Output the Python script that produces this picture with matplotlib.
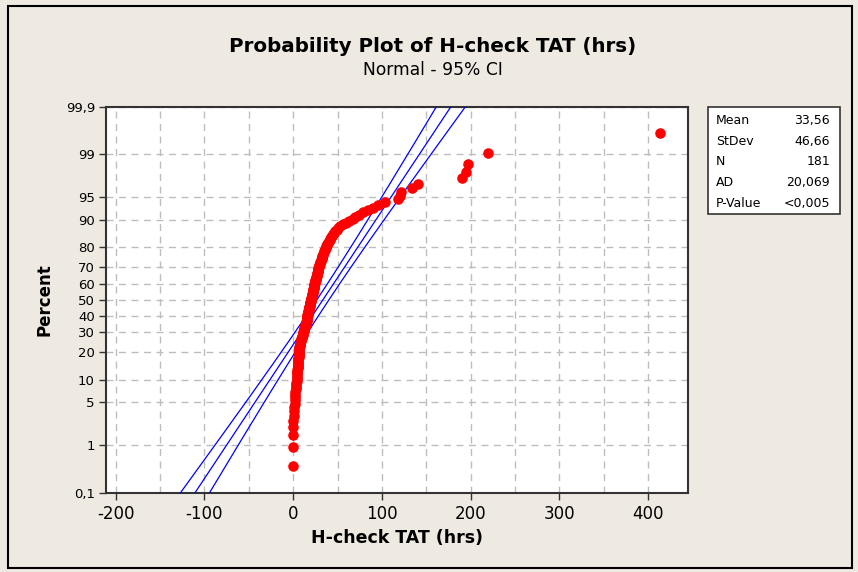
from statistics import NormalDist
import numpy as np
import matplotlib
matplotlib.use("Agg")
import matplotlib.pyplot as plt
from matplotlib.patches import Rectangle

# sorted H-check TAT values (hrs)
tat = [
    0, 0, 0, 0,
    0, 0.5, 0.5,
    1, 1.5, 2, 2,
    2.5, 2.5, 3, 3, 3.5, 3.5, 4,
    4, 4, 4, 4.5, 4.5, 4.5, 5, 5, 5, 5,
    5, 5.5, 5.5, 5.5, 6, 6, 6, 6, 6.5, 6.5, 7, 7, 7,
    7.5, 7.5, 8, 8, 8.5, 9, 9, 9.5, 10, 10, 10.5, 11, 11, 11.5,
    12, 12, 12.5, 12.5, 13, 13, 13.5, 14, 14, 14.5, 14.5, 15, 15, 15.5,
    15.5, 16, 16, 16, 16.5, 16.5, 17, 17, 17, 17.5, 17.5, 18, 18, 18, 18.5, 18.5, 19, 19.5,
    19.5, 20, 20, 20, 20.5, 20.5, 21, 21, 21, 21.5, 21.5, 22, 22, 22, 22.5, 22.5, 23, 23, 23.5, 23.5,
    24, 24, 24.5, 24.5, 25, 25, 25.5, 25.5, 26, 26, 26.5, 26.5, 27, 27, 27.5, 27.5, 28, 28, 28.5, 29,
    29.5, 29.5, 30, 30, 30.5, 31, 31.5, 32, 32, 32.5, 33,
    33.5, 34, 34.5, 35, 35.5, 36, 37, 37.5, 38, 38.5, 39,
    40, 41, 42, 43, 44, 45, 46, 47, 49, 51, 53,
    56, 60, 63, 67, 70, 74, 79, 84, 90, 96, 103,
    118, 120, 122, 133.5, 141, 190, 195, 197, 220, 413,
]

# summary shown in the legend box
mean = 33.56
stdev = 46.66
n = 181
stat_labels = ["Mean", "StDev", "N", "AD", "P-Value"]
stat_values = ["33,56", "46,66", "181", "20,069", "<0,005"]

pct_ticks = [0.1, 1, 5, 10, 20, 30, 40, 50, 60, 70, 80, 90, 95, 99, 99.9]
pct_labels = ["0,1", "1", "5", "10", "20", "30", "40", "50", "60", "70", "80", "90", "95", "99", "99,9"]
x_ticks = [-200, -100, 0, 100, 200, 300, 400]
x_grid = [-150, -50, 50, 150, 250, 350]

nd = NormalDist()
_ppf = np.vectorize(lambda p: nd.inv_cdf(min(max(p / 100.0, 1e-9), 1 - 1e-9)), otypes=[float])
_cdf = np.vectorize(lambda z: nd.cdf(z) * 100.0, otypes=[float])


def probit(p):
    return _ppf(np.asarray(p, dtype=float))


def inv_probit(z):
    return _cdf(np.asarray(z, dtype=float))


# median rank plotting positions
ranks = np.arange(1, len(tat) + 1)
pos = (ranks - 0.3) / (len(tat) + 0.4) * 100

# fitted line and 95% CI
pline = np.concatenate([[0.05], np.linspace(0.1, 99.9, 400), [99.95]])
z = probit(pline)
xfit = mean + stdev * z
se = stdev * np.sqrt(1.0 / n + z ** 2 / (2.0 * n))
xlo = xfit - 1.96 * se
xhi = xfit + 1.96 * se

bg = "#EEEAE1"
fig = plt.figure(figsize=(8.58, 5.72), dpi=100, facecolor=bg)
plt.rcParams['font.family'] = ['DejaVu Sans']
ax = fig.add_axes([106 / 858, 1 - 492.7 / 572, (688 - 106) / 858, (492.7 - 106.7) / 572])
ax.set_yscale('function', functions=(probit, inv_probit))

for xs in (xlo, xfit, xhi):
    ax.plot(xs, pline, color="#0000FF", lw=0.9, zorder=3)
ax.plot(tat, pos, 'o', color="#FF0000", ms=7.6, mec="none", zorder=4, clip_on=False)

ax.set_xlim(-211, 445)
ax.set_ylim(0.1, 99.9)
ax.set_yticks(pct_ticks)
ax.set_yticklabels(pct_labels, fontsize=9.5)
ax.set_yticks([], minor=True)
ax.set_xticks(x_ticks)
ax.set_xticks(x_grid, minor=True)
ax.set_xticklabels([str(v) for v in x_ticks], fontsize=12)
ax.tick_params(axis='x', which='minor', length=0)
ax.tick_params(axis='both', which='major', direction='out', length=5, width=1, color="#333333")
ax.tick_params(axis='y', pad=3)
ax.tick_params(axis='x', pad=4)
ax.grid(True, which='both', axis='x', color="#BDBDBD", ls=(0, (5, 4)), lw=1)
ax.grid(True, which='major', axis='y', color="#BDBDBD", ls=(0, (5, 4)), lw=1)
ax.set_axisbelow(True)
for s in ax.spines.values():
    s.set_linewidth(1.5)
    s.set_color("#333333")

ax.set_xlabel("H-check TAT (hrs)", fontsize=12.5, fontweight='bold', labelpad=4)
ax.set_ylabel("Percent", fontsize=12, fontweight='bold', labelpad=9)

fig.text(433 / 858, 1 - 47 / 572, "Probability Plot of H-check TAT (hrs)",
         ha='center', va='center', fontsize=14.3, fontweight='bold')
fig.text(433 / 858, 1 - 70 / 572, "Normal - 95% CI", ha='center', va='center', fontsize=12.3)

# stats box
fig.patches.append(Rectangle((708 / 858, 1 - 214 / 572), 132 / 858, 107 / 572,
                             transform=fig.transFigure, facecolor="white",
                             edgecolor="#333333", lw=1.2))
for k, (lab, val) in enumerate(zip(stat_labels, stat_values)):
    yy = 1 - (120.7 + 20.6 * k) / 572
    fig.text(716 / 858, yy, lab, ha='left', va='center', fontsize=9)
    fig.text(830 / 858, yy, val, ha='right', va='center', fontsize=9)

# outer frame
fig.patches.append(Rectangle((7.5 / 858, 1 - 568 / 572), 844 / 858, 562 / 572,
                             transform=fig.transFigure, facecolor="none",
                             edgecolor="black", lw=1.5))

fig.savefig("out.png", dpi=100, facecolor=bg)
